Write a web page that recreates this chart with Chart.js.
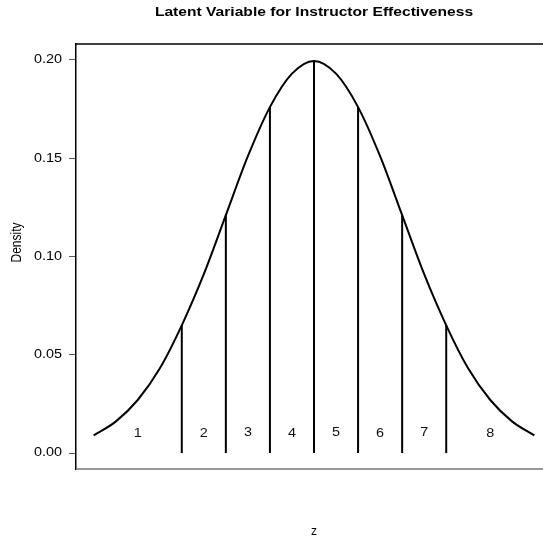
<!DOCTYPE html>
<html>
<head>
<meta charset="utf-8">
<script src="https://cdn.jsdelivr.net/npm/chart.js@4"></script>
<style>
  html, body { margin: 0; padding: 0; background: #fff; overflow: hidden; }
  canvas { display: block; }
</style>
</head>
<body>
<canvas id="myChart" width="552" height="539"></canvas>
<script>
// density curve
const curveZ = [-5, -4.5, -4, -3.5, -3, -2.5, -2, -1.5, -1, -0.5, 0, 0.5, 1, 1.5, 2, 2.5, 3, 3.5, 4, 4.5, 5];
const curveDensity = [0.009, 0.016, 0.027, 0.043, 0.065, 0.091, 0.121, 0.151, 0.176, 0.193, 0.1995,
                      0.193, 0.176, 0.151, 0.121, 0.091, 0.065, 0.043, 0.027, 0.016, 0.009];

// thresholds between categories and the curve height there
const cutZ = [-3, -2, -1, 0, 1, 2, 3];
const cutHeight = [0.065, 0.121, 0.176, 0.1995, 0.176, 0.121, 0.065];

// category labels
const catLabels = ['1', '2', '3', '4', '5', '6', '7', '8'];
const catZ = [-4, -2.5, -1.5, -0.5, 0.5, 1.5, 2.5, 4];
const catY = [0.0097, 0.0097, 0.0105, 0.0097, 0.0105, 0.0097, 0.0105, 0.0097];

const yTicks = [0, 0.05, 0.1, 0.15, 0.2];
const titleText = 'Latent Variable for Instructor Effectiveness';

const FONT = 'Liberation Sans, Arial, Helvetica, sans-serif';
const STRETCH = 1.2; // the reference text is a bit wide

function wideText(ctx, text, x, y) {
    ctx.save();
    ctx.translate(x, y);
    ctx.scale(STRETCH, 1);
    ctx.fillText(text, 0, 0);
    ctx.restore();
}

const extras = {
    id: 'extras',
    afterDraw(chart) {
        const ctx = chart.ctx;
        const area = chart.chartArea;
        const xs = chart.scales.x, ys = chart.scales.y;
        ctx.save();
        // top of the box
        ctx.strokeStyle = '#000';
        ctx.lineWidth = 1.5;
        ctx.beginPath();
        ctx.moveTo(area.left, area.top);
        ctx.lineTo(area.right, area.top);
        ctx.stroke();
        // bottom line is grey
        ctx.strokeStyle = '#777';
        ctx.beginPath();
        ctx.moveTo(area.left, area.bottom);
        ctx.lineTo(area.right, area.bottom);
        ctx.stroke();

        ctx.textBaseline = 'middle';
        // title
        ctx.fillStyle = '#000';
        ctx.textAlign = 'center';
        ctx.font = 'bold 13px ' + FONT;
        wideText(ctx, titleText, (area.left + area.right) / 2, 12);
        // y tick labels
        ctx.font = '12px ' + FONT;
        ctx.textAlign = 'right';
        yTicks.forEach(v => {
            wideText(ctx, v.toFixed(2), area.left - 14, ys.getPixelForValue(v));
        });
        // category numbers
        ctx.fillStyle = '#111';
        ctx.textAlign = 'center';
        catLabels.forEach((t, i) => {
            wideText(ctx, t, xs.getPixelForValue(catZ[i]), ys.getPixelForValue(catY[i]));
        });
        // y axis title
        ctx.fillStyle = '#000';
        ctx.translate(17, (area.top + area.bottom) / 2 - 14);
        ctx.rotate(-Math.PI / 2);
        ctx.scale(1, STRETCH);
        ctx.fillText('Density', 0, 0);
        ctx.restore();
    }
};

window.onload = () => {
    const ctx = document.getElementById('myChart');
    const datasets = [
        {
            label: 'density',
            data: curveZ.map((z, i) => ({x: z, y: curveDensity[i]})),
            borderColor: '#000',
            borderWidth: 2,
            pointRadius: 0,
            showLine: true,
            cubicInterpolationMode: 'monotone'
        }
    ];
    cutZ.forEach((z, i) => {
        datasets.push({
            label: 'cut' + i,
            data: [{x: z, y: 0}, {x: z, y: cutHeight[i]}],
            borderColor: '#000',
            borderWidth: 2,
            pointRadius: 0,
            showLine: true
        });
    });

    window.chart = new Chart(ctx, {
        type: 'scatter',
        data: { datasets: datasets },
        options: {
            responsive: false,
            animation: false,
            devicePixelRatio: 1,
            layout: { padding: { top: 44, left: 0, right: 0, bottom: 0 } },
            plugins: {
                legend: { display: false },
                tooltip: { enabled: false }
            },
            scales: {
                x: {
                    type: 'linear',
                    min: -5.4,
                    max: 5.4,
                    ticks: { display: false },
                    grid: { display: false },
                    border: { display: false },
                    title: {
                        display: true,
                        text: 'z',
                        color: '#000',
                        font: { family: FONT, size: 12 },
                        padding: { top: 0, bottom: 0 }
                    },
                    afterFit: (s) => { s.height = 70; }
                },
                y: {
                    min: -0.0081,
                    max: 0.2081,
                    afterBuildTicks: (s) => { s.ticks = yTicks.map(v => ({value: v})); },
                    ticks: { display: false },
                    grid: {
                        display: true,
                        drawOnChartArea: false,
                        drawTicks: true,
                        tickLength: 7,
                        color: '#555'
                    },
                    border: { display: true, color: '#000', width: 1.5 },
                    afterFit: (s) => { s.width = 76; }
                }
            }
        },
        plugins: [extras]
    });
};
</script>
</body>
</html>
